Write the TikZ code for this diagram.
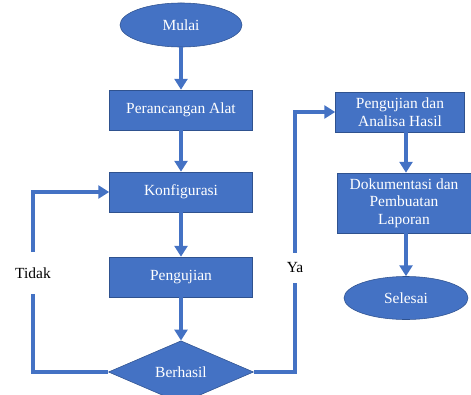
\documentclass[tikz,border=0pt]{standalone}
\usepackage{fontspec}
\setmainfont{Liberation Serif}
\usetikzlibrary{arrows.meta,shapes.geometric}
\definecolor{fc-blue}{HTML}{4472C4}
\definecolor{fc-edge}{HTML}{2F528F}

\begin{document}
\begin{tikzpicture}[x=0.025cm, y=-0.025cm,
    txt/.style={font=\rmfamily\fontsize{11}{12.5}\selectfont},
    box/.style={txt, draw=fc-edge, fill=fc-blue, text=white, rectangle, align=center,
        inner sep=0pt, minimum width=3.575cm, minimum height=1cm},
    terminal/.style={txt, draw=fc-edge, fill=fc-blue, text=white, ellipse, inner sep=0pt},
    decision/.style={txt, draw=fc-edge, fill=fc-blue, text=white, diamond, inner sep=0pt,
        minimum width=3.625cm, minimum height=1.45cm},
    answer/.style={txt, text=black, inner sep=0pt},
    link/.style={fc-blue, line width=3pt},
    flow/.style={link, -{Triangle[length=0.27cm, width=0.32cm]}}]
    \useasboundingbox (0,0) rectangle (471,394);

    % kolom kiri
    \node[terminal, minimum width=3.05cm, minimum height=1.1cm] (mulai) at (181,25) {Mulai};
    \node[box] (rancang) at (181,110) {Perancangan Alat};
    \node[box] (konfig) at (181,192) {Konfigurasi};
    \node[box] (uji) at (181,277) {Pengujian};
    \node[decision] (berhasil) at (181,372) {Berhasil};

    % kolom kanan
    \node[box, minimum width=3.225cm] (hasil) at (400,112) {Pengujian dan\\Analisa Hasil};
    \node[box, minimum width=3.35cm, minimum height=1.5cm] (dok) at (404,203) {Dokumentasi dan\\Pembuatan\\Laporan};
    \node[terminal, minimum width=3.1cm, minimum height=1.075cm] (selesai) at (406,298) {Selesai};

    % label keputusan
    \node[answer, minimum height=1.025cm] (tidak) at (33,273) {Tidak};
    \node[answer, minimum height=0.75cm] (ya) at (295,268) {Ya};

    \draw[flow] (mulai) -- (rancang);
    \draw[flow] (rancang) -- (konfig);
    \draw[flow] (konfig) -- (uji);
    \draw[flow] (uji) -- (berhasil);
    \draw[link] (berhasil.west) -| (tidak.south);
    \draw[flow] (tidak.north) |- (konfig.west);
    \draw[link] (berhasil.east) -| (ya.south);
    \draw[flow] (ya.north) |- (hasil.west);
    \draw[flow] (hasil.south -| selesai.north) -- (dok.north -| selesai.north);
    \draw[flow] (dok.south -| selesai.north) -- (selesai.north);
\end{tikzpicture}
\end{document}
